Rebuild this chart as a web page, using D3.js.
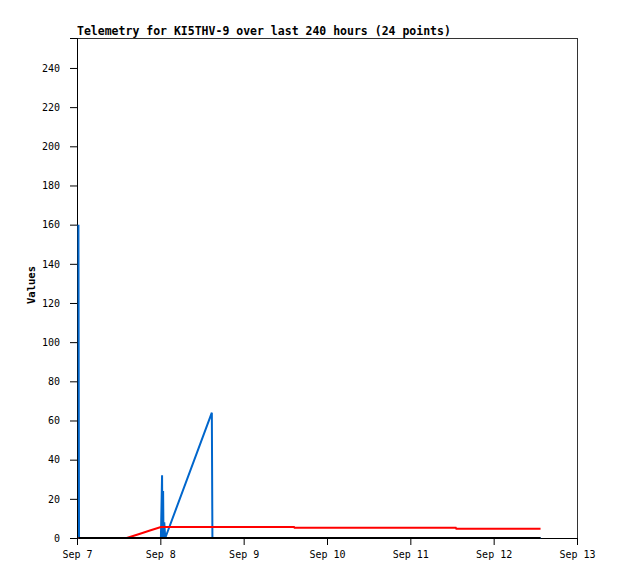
<!DOCTYPE html>
<html>
<head>
<meta charset="utf-8">
<script src="https://cdn.jsdelivr.net/npm/d3@7"></script>
<style>
  html, body { margin: 0; padding: 0; background: #fff; }
  svg { display: block; }
</style>
</head>
<body>
<svg id="chart" width="618" height="579"></svg>
<script>
// ---- data ----
const times = [
  "2023-09-07T00:25", "2023-09-07T00:35", "2023-09-07T14:20", "2023-09-07T18:10",
  "2023-09-07T21:00", "2023-09-08T00:10", "2023-09-08T00:30", "2023-09-08T00:36",
  "2023-09-08T00:48", "2023-09-08T00:55", "2023-09-08T01:08", "2023-09-08T01:25",
  "2023-09-08T14:50", "2023-09-08T15:00", "2023-09-08T20:00", "2023-09-09T14:30",
  "2023-09-09T14:40", "2023-09-10T06:00", "2023-09-10T20:00", "2023-09-11T05:00",
  "2023-09-11T13:05", "2023-09-11T13:15", "2023-09-12T02:00", "2023-09-12T13:30"
];
const blueValues = [160, 0, 0, 0, 0, 0, 32, 0, 24, 0, 8, 0, 64, 0, 0, 0, 0, 0, 0, 0, 0, 0, 0, 0];
const redValues  = [0, 0, 0, 2.2, 3.8, 5.6, 5.6, 5.6, 5.6, 5.6, 5.6, 5.6, 5.6, 5.6, 5.6, 5.6, 5.2, 5.2, 5.2, 5.2, 5.2, 4.7, 4.7, 4.7];
const blackValues = [0, 0, 0, 0, 0, 0, 0, 0, 0, 0, 0, 0, 0, 0, 0, 0, 0, 0, 0, 0, 0, 0, 0, 0];
const yTickValues = [0, 20, 40, 60, 80, 100, 120, 140, 160, 180, 200, 220, 240];
const xDomain = ["2023-09-07T00:00", "2023-09-13T00:00"];
const yMax = 255.3;
const titleText = "Telemetry for KI5THV-9 over last 240 hours (24 points)";
const yLabelText = "Values";

// ---- layout ----
const parse = d3.timeParse("%Y-%m-%dT%H:%M");
const margin = { left: 77, top: 38, right: 577, bottom: 538 };
const svg = d3.select("#chart");

const x = d3.scaleTime()
  .domain(xDomain.map(parse))
  .range([margin.left, margin.right]);
const y = d3.scaleLinear()
  .domain([0, yMax])
  .range([margin.bottom, margin.top]);

const pts = times.map((t, i) => ({ t: parse(t), b: blueValues[i], r: redValues[i], k: blackValues[i] }));

// frame
svg.append("rect")
  .attr("x", margin.left + 0.5).attr("y", margin.top + 0.5)
  .attr("width", margin.right - margin.left).attr("height", margin.bottom - margin.top)
  .attr("fill", "none").attr("stroke", "#333").attr("stroke-width", 1);

// axes
const xAxis = d3.axisBottom(x)
  .ticks(d3.timeDay.every(1))
  .tickFormat(d3.timeFormat("%b %-d"))
  .tickSize(7).tickPadding(6);
const gx = svg.append("g")
  .attr("transform", `translate(0,${margin.bottom})`)
  .call(xAxis);

const yAxis = d3.axisLeft(y)
  .tickValues(yTickValues)
  .tickSize(7).tickPadding(10);
const gy = svg.append("g")
  .attr("transform", `translate(${margin.left},0)`)
  .call(yAxis);

[gx, gy].forEach(g => {
  g.selectAll("text")
    .attr("font-family", "'DejaVu Sans Mono', monospace")
    .attr("font-size", "10px")
    .attr("fill", "#000");
  g.selectAll("line").attr("stroke", "#000");
  g.select(".domain").attr("stroke", "#000");
});

// lines
const mk = key => d3.line().x(d => x(d.t)).y(d => y(d[key]));
const plot = svg.append("g");
plot.append("path").datum(pts).attr("d", mk("b"))
  .attr("fill", "none").attr("stroke", "#0066cc").attr("stroke-width", 2);
plot.append("path").datum(pts).attr("d", mk("r"))
  .attr("fill", "none").attr("stroke", "#ff0000").attr("stroke-width", 2);
plot.append("path").datum(pts).attr("d", mk("k"))
  .attr("fill", "none").attr("stroke", "#000").attr("stroke-width", 2);

// title
svg.append("text")
  .attr("x", margin.left).attr("y", 35)
  .attr("font-family", "'DejaVu Sans Mono', monospace")
  .attr("font-weight", "bold").attr("font-size", "11.5px")
  .text(titleText);

// y label
svg.append("text")
  .attr("transform", `translate(35,${(margin.top + margin.bottom) / 2 - 3}) rotate(-90)`)
  .attr("text-anchor", "middle")
  .attr("font-family", "'DejaVu Sans Mono', monospace")
  .attr("font-weight", "bold").attr("font-size", "10.5px")
  .text(yLabelText);
</script>
</body>
</html>
